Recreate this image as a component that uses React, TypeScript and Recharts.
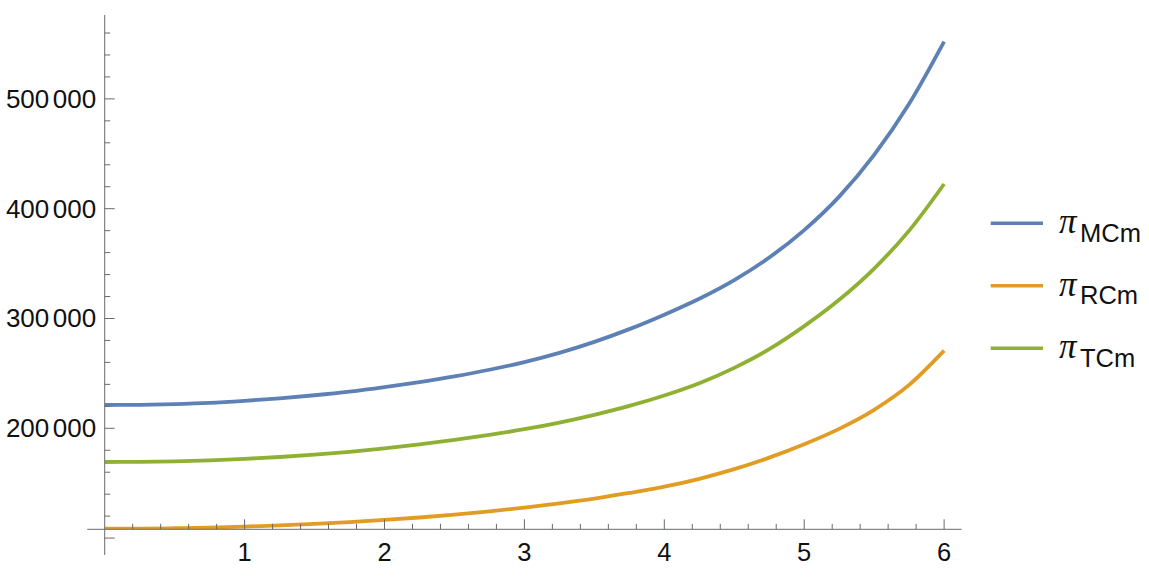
import React from 'react';
import { LineChart, Line, XAxis, YAxis, ReferenceLine, Legend } from 'recharts';

const xValues = [0, 0.25, 0.5, 0.75, 1, 1.25, 1.5, 1.75, 2, 2.25, 2.5, 2.75, 3, 3.25, 3.5, 3.75, 4, 4.25, 4.5, 4.75, 5, 5.25, 5.5, 5.75, 6];
const piMCm = [221200, 221400, 222000, 223100, 225000, 227300, 230100, 233400, 237500, 242100, 247300, 253300, 260300, 268700, 278700, 290300, 303500, 318000, 335000, 355500, 380500, 411000, 449000, 495500, 552100];
const piRCm = [108500, 108650, 109000, 109600, 110450, 111550, 112900, 114550, 116500, 118750, 121350, 124350, 127800, 131700, 136000, 141100, 146800, 154000, 162800, 173300, 185500, 199500, 216800, 239500, 270700];
const piTCm = [169300, 169450, 169950, 170850, 172150, 173850, 175950, 178550, 181650, 185250, 189350, 193950, 199150, 205250, 212250, 220350, 229850, 241000, 255000, 272000, 293000, 317000, 345500, 380000, 422500];

const seriesKeys = ['MCm', 'RCm', 'TCm'];
const seriesColors = ['#5E81B5', '#E19C24', '#8FB032'];

const xMajorTicks = [1, 2, 3, 4, 5, 6];
const xMinorTicks = [0.2, 0.4, 0.6, 0.8, 1.2, 1.4, 1.6, 1.8, 2.2, 2.4, 2.6, 2.8, 3.2, 3.4, 3.6, 3.8, 4.2, 4.4, 4.6, 4.8, 5.2, 5.4, 5.6, 5.8];
const yMajorTicks = [100000, 200000, 300000, 400000, 500000];
const yLabelTicks = [200000, 300000, 400000, 500000];
const yMinorTicks = [120000, 140000, 160000, 180000, 220000, 240000, 260000, 280000, 320000, 340000, 360000, 380000, 420000, 440000, 460000, 480000, 520000, 540000, 560000];

const xDomain = [0, 6.125];
const yDomain = [108000, 576400];
const axisBottomExt = 84600;
const axisLeftExt = -0.125;

const data = xValues.map((x, i) => ({ x, MCm: piMCm[i], RCm: piRCm[i], TCm: piTCm[i] }));

const AXIS = '#6b6b6b';
const FONT = '"Liberation Sans", Arial, sans-serif';

const YTick = (props: any) => {
  const { x, y, payload } = props;
  const v = payload.value as number;
  const major = yMajorTicks.includes(v);
  const labeled = yLabelTicks.includes(v);
  const thousands = Math.floor(v / 1000);
  return (
    <g>
      <line x1={x} x2={x + (major ? 10 : 5.5)} y1={y} y2={y} stroke={AXIS} strokeWidth={1} />
      {labeled && (
        <text x={x - 8.5} y={y + 9} textAnchor="end" fontFamily={FONT} fontSize={26} fill="#111">
          <tspan>{String(thousands)}</tspan>
          <tspan dx="3.5">000</tspan>
        </text>
      )}
    </g>
  );
};

const XTick = (props: any) => {
  const { x, y, payload } = props;
  const v = payload.value as number;
  const major = xMajorTicks.includes(v);
  return (
    <g>
      <line x1={x} x2={x} y1={y} y2={y - (major ? 10 : 5.5)} stroke={AXIS} strokeWidth={1} />
      {major && (
        <text x={x} y={y + 31.6} textAnchor="middle" fontFamily={FONT} fontSize={25.5} fill="#111">
          {String(v)}
        </text>
      )}
    </g>
  );
};

const renderLegend = (props: any) => {
  const payload = props.payload || [];
  return (
    <svg width={1149} height={577} style={{ position: 'absolute', left: 0, top: 0, pointerEvents: 'none' }}>
      {payload.map((e: any, i: number) => {
        const cy = 223.3 + i * 62.5;
        return (
          <g key={e.value}>
            <line x1={990.7} x2={1043} y1={cy} y2={cy} stroke={e.color} strokeWidth={3.5} />
            <text x={1059} y={cy + 10} fontFamily='"Liberation Serif", "Times New Roman", serif' fontStyle="italic" fontSize={35} fill="#111">
              π
            </text>
            <text x={1080} y={cy + 18.4} fontFamily={FONT} fontSize={25.5} fill="#111">
              {e.value}
            </text>
          </g>
        );
      })}
    </svg>
  );
};

export default function App() {
  return (
    <div style={{ position: 'absolute', left: 0, top: 0, width: 1149, height: 577, background: '#fff' }}>
      <LineChart
        width={1149}
        height={577}
        data={data}
        margin={{ top: 15, left: 103.7, right: 187.4, bottom: 46.7 }}
      >
        <XAxis
          dataKey="x"
          type="number"
          domain={xDomain}
          allowDataOverflow
          ticks={[...xMinorTicks, ...xMajorTicks].sort((a, b) => a - b)}
          interval={0}
          height={1}
          tickSize={0}
          tickMargin={0}
          tickLine={false}
          axisLine={{ stroke: AXIS, strokeWidth: 1 }}
          tick={XTick}
        />
        <YAxis
          type="number"
          domain={yDomain}
          allowDataOverflow
          ticks={[...yMinorTicks, ...yMajorTicks].sort((a, b) => a - b)}
          interval={0}
          width={1}
          tickSize={0}
          tickMargin={0}
          tickLine={false}
          axisLine={{ stroke: AXIS, strokeWidth: 1 }}
          tick={YTick}
        />
        <ReferenceLine
          segment={[{ x: axisLeftExt, y: yDomain[0] }, { x: 0, y: yDomain[0] }]}
          stroke={AXIS}
          strokeWidth={1}
          ifOverflow="visible"
        />
        <ReferenceLine
          segment={[{ x: 0, y: axisBottomExt }, { x: 0, y: yDomain[0] }]}
          stroke={AXIS}
          strokeWidth={1}
          ifOverflow="visible"
        />
        {seriesKeys.map((k, i) => (
          <Line
            key={k}
            dataKey={k}
            name={k}
            type="monotone"
            stroke={seriesColors[i]}
            strokeWidth={3.8}
            dot={false}
            activeDot={false}
            isAnimationActive={false}
          />
        ))}
        <Legend
          layout="vertical"
          align="center"
          verticalAlign="middle"
          content={renderLegend}
          wrapperStyle={{ position: 'absolute', left: 0, top: 0, width: 1149, height: 577, pointerEvents: 'none' }}
        />
      </LineChart>
    </div>
  );
}
